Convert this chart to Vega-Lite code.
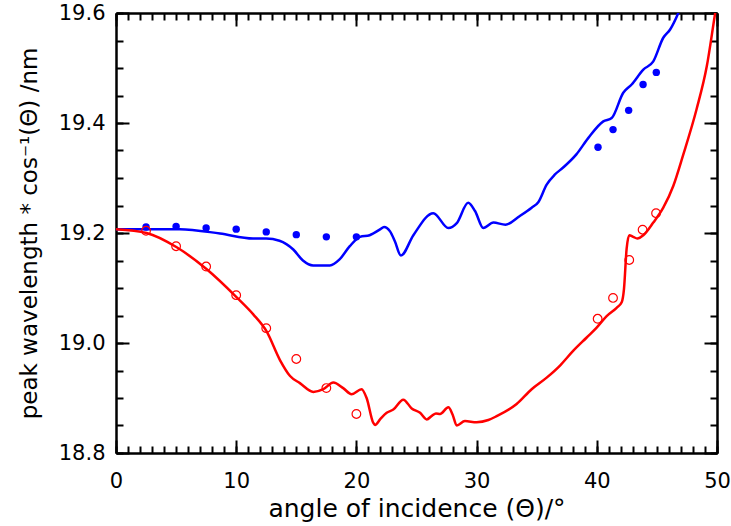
{
  "$schema": "https://vega.github.io/schema/vega-lite/v6.json",
  "width": 601,
  "height": 440,
  "autosize": "none",
  "padding": {"left": 116, "top": 13, "right": 14, "bottom": 73},
  "background": "white",
  "config": {
    "view": {"stroke": null},
    "axis": {
      "grid": false,
      "domainColor": "black",
      "domainWidth": 2,
      "tickColor": "black",
      "tickWidth": 2,
      "labelFont": "DejaVu Sans",
      "labelFontSize": 21,
      "labelColor": "black",
      "titleFont": "DejaVu Sans",
      "titleFontSize": 23,
      "titleFontWeight": "normal",
      "titleColor": "black"
    }
  },
  "datasets": {
    "sim_s": [
      {"angle": 0, "value": 19.207}, {"angle": 2.5, "value": 19.207}, {"angle": 5.3, "value": 19.207},
      {"angle": 8.65, "value": 19.199}, {"angle": 11.4, "value": 19.19}, {"angle": 12.5, "value": 19.19},
      {"angle": 13.6, "value": 19.186}, {"angle": 14.75, "value": 19.17}, {"angle": 15.55, "value": 19.15},
      {"angle": 16.4, "value": 19.141}, {"angle": 17.8, "value": 19.141}, {"angle": 18.6, "value": 19.152},
      {"angle": 19.45, "value": 19.176}, {"angle": 20.3, "value": 19.193}, {"angle": 21.1, "value": 19.196},
      {"angle": 22.0, "value": 19.207}, {"angle": 22.3, "value": 19.211}, {"angle": 22.8, "value": 19.203},
      {"angle": 23.2, "value": 19.185}, {"angle": 23.7, "value": 19.159}, {"angle": 24.74, "value": 19.196},
      {"angle": 26.4, "value": 19.236}, {"angle": 27.65, "value": 19.209}, {"angle": 28.35, "value": 19.218},
      {"angle": 29.3, "value": 19.255}, {"angle": 29.87, "value": 19.24}, {"angle": 30.56, "value": 19.209},
      {"angle": 31.4, "value": 19.219}, {"angle": 32.4, "value": 19.215}, {"angle": 33.6, "value": 19.231},
      {"angle": 34.58, "value": 19.246}, {"angle": 35.13, "value": 19.256}, {"angle": 35.83, "value": 19.288},
      {"angle": 36.5, "value": 19.306}, {"angle": 37.2, "value": 19.319}, {"angle": 38.3, "value": 19.343},
      {"angle": 39.3, "value": 19.373}, {"angle": 40.54, "value": 19.403}, {"angle": 41.24, "value": 19.409},
      {"angle": 42.2, "value": 19.455}, {"angle": 42.9, "value": 19.47}, {"angle": 43.87, "value": 19.497},
      {"angle": 44.7, "value": 19.512}, {"angle": 45.53, "value": 19.555}, {"angle": 46.1, "value": 19.57},
      {"angle": 46.8, "value": 19.601}, {"angle": 47.3, "value": 19.63}
    ],
    "sim_p": [
      {"angle": 0, "value": 19.207}, {"angle": 2.55, "value": 19.2}, {"angle": 5.05, "value": 19.174},
      {"angle": 7.55, "value": 19.134}, {"angle": 10.04, "value": 19.083}, {"angle": 11.42, "value": 19.052},
      {"angle": 12.53, "value": 19.021}, {"angle": 13.64, "value": 18.969}, {"angle": 14.48, "value": 18.94},
      {"angle": 15.3, "value": 18.927}, {"angle": 16.42, "value": 18.911}, {"angle": 17.25, "value": 18.916},
      {"angle": 18.08, "value": 18.928}, {"angle": 18.9, "value": 18.918}, {"angle": 19.6, "value": 18.907},
      {"angle": 20.43, "value": 18.916}, {"angle": 20.85, "value": 18.9}, {"angle": 21.4, "value": 18.855},
      {"angle": 21.55, "value": 18.851}, {"angle": 22.0, "value": 18.862}, {"angle": 22.52, "value": 18.873},
      {"angle": 23.07, "value": 18.879}, {"angle": 23.9, "value": 18.897}, {"angle": 24.6, "value": 18.881},
      {"angle": 25.3, "value": 18.873}, {"angle": 25.85, "value": 18.861}, {"angle": 26.3, "value": 18.868},
      {"angle": 26.62, "value": 18.872}, {"angle": 26.96, "value": 18.871}, {"angle": 27.65, "value": 18.883},
      {"angle": 28.0, "value": 18.87}, {"angle": 28.35, "value": 18.85}, {"angle": 29.03, "value": 18.858},
      {"angle": 30.0, "value": 18.856}, {"angle": 30.98, "value": 18.86}, {"angle": 31.67, "value": 18.867},
      {"angle": 33.33, "value": 18.889}, {"angle": 34.58, "value": 18.916}, {"angle": 35.83, "value": 18.937},
      {"angle": 36.94, "value": 18.959}, {"angle": 38.05, "value": 18.986}, {"angle": 39.16, "value": 19.01},
      {"angle": 39.99, "value": 19.028}, {"angle": 40.82, "value": 19.049}, {"angle": 41.65, "value": 19.064},
      {"angle": 42.07, "value": 19.074}, {"angle": 42.26, "value": 19.098}, {"angle": 42.48, "value": 19.171},
      {"angle": 42.7, "value": 19.196}, {"angle": 43.03, "value": 19.193}, {"angle": 43.37, "value": 19.19},
      {"angle": 43.87, "value": 19.196}, {"angle": 44.7, "value": 19.219}, {"angle": 45.53, "value": 19.246},
      {"angle": 46.37, "value": 19.286}, {"angle": 47.2, "value": 19.343}, {"angle": 48.3, "value": 19.425},
      {"angle": 49.15, "value": 19.503}, {"angle": 49.85, "value": 19.6}, {"angle": 50, "value": 19.62}
    ],
    "meas_s": [
      {"angle": 2.5, "value": 19.211}, {"angle": 5.0, "value": 19.212}, {"angle": 7.5, "value": 19.209},
      {"angle": 10.0, "value": 19.207}, {"angle": 12.5, "value": 19.202}, {"angle": 15.0, "value": 19.197},
      {"angle": 17.5, "value": 19.193}, {"angle": 20.0, "value": 19.193}, {"angle": 40.1, "value": 19.356},
      {"angle": 41.35, "value": 19.388}, {"angle": 42.65, "value": 19.423}, {"angle": 43.85, "value": 19.47},
      {"angle": 44.95, "value": 19.492}
    ],
    "meas_p": [
      {"angle": 2.5, "value": 19.204}, {"angle": 5.0, "value": 19.176}, {"angle": 7.5, "value": 19.139},
      {"angle": 10.0, "value": 19.087}, {"angle": 12.5, "value": 19.027}, {"angle": 15.0, "value": 18.971},
      {"angle": 17.5, "value": 18.918}, {"angle": 20.0, "value": 18.871}, {"angle": 40.07, "value": 19.044},
      {"angle": 41.35, "value": 19.082}, {"angle": 42.7, "value": 19.151}, {"angle": 43.81, "value": 19.206},
      {"angle": 44.93, "value": 19.236}
    ]
  },
  "layer": [
    {
      "data": {"name": "sim_s"},
      "mark": {"type": "line", "color": "#0000ff", "strokeWidth": 2.5, "interpolate": "monotone", "clip": true},
      "encoding": {
        "x": {
          "field": "angle", "type": "quantitative",
          "scale": {"domain": [0, 50], "nice": false, "zero": false},
          "axis": {
            "orient": "bottom", "values": [0, 10, 20, 30, 40, 50], "tickSize": -13,
            "labelPadding": 30, "labelFlush": false, "labelOverlap": false,
            "title": "angle of incidence (Θ)/°", "titleFontSize": 25, "titlePadding": 5
          }
        },
        "y": {
          "field": "value", "type": "quantitative",
          "scale": {"domain": [18.8, 19.6], "nice": false, "zero": false},
          "axis": {
            "orient": "left", "values": [18.8, 19.0, 19.2, 19.4, 19.6], "format": ".1f", "tickSize": -13,
            "labelPadding": 24, "labelFlush": false, "labelOverlap": false,
            "title": "peak wavelength * cos⁻¹(Θ) /nm", "titleFontSize": 23, "titlePadding": 17
          }
        }
      }
    },
    {
      "data": {"name": "sim_p"},
      "mark": {"type": "line", "color": "#ff0000", "strokeWidth": 2.5, "interpolate": "monotone", "clip": true},
      "encoding": {
        "x": {
          "field": "angle", "type": "quantitative",
          "scale": {"domain": [0, 50], "nice": false, "zero": false},
          "axis": {
            "orient": "bottom",
            "values": [0,1,2,3,4,5,6,7,8,9,10,11,12,13,14,15,16,17,18,19,20,21,22,23,24,25,26,27,28,29,30,31,32,33,34,35,36,37,38,39,40,41,42,43,44,45,46,47,48,49,50],
            "tickSize": -7, "labels": false, "title": null
          }
        },
        "y": {
          "field": "value", "type": "quantitative",
          "scale": {"domain": [18.8, 19.6], "nice": false, "zero": false},
          "axis": {
            "orient": "left",
            "values": [18.8, 18.85, 18.9, 18.95, 19.0, 19.05, 19.1, 19.15, 19.2, 19.25, 19.3, 19.35, 19.4, 19.45, 19.5, 19.55, 19.6],
            "tickSize": -7, "labels": false, "title": null
          }
        }
      }
    },
    {
      "data": {"name": "meas_s"},
      "mark": {"type": "circle", "color": "#0000ff", "opacity": 1, "size": 55},
      "encoding": {
        "x": {
          "field": "angle", "type": "quantitative",
          "scale": {"domain": [0, 50], "nice": false, "zero": false},
          "axis": {"orient": "top", "values": [0, 10, 20, 30, 40, 50], "tickSize": -13, "labels": false, "title": null}
        },
        "y": {
          "field": "value", "type": "quantitative",
          "scale": {"domain": [18.8, 19.6], "nice": false, "zero": false},
          "axis": {"orient": "right", "values": [18.8, 19.0, 19.2, 19.4, 19.6], "tickSize": -13, "labels": false, "title": null}
        }
      }
    },
    {
      "data": {"name": "meas_p"},
      "mark": {"type": "point", "shape": "circle", "color": "#ff0000", "filled": false, "opacity": 1, "strokeWidth": 1.2, "size": 75},
      "encoding": {
        "x": {
          "field": "angle", "type": "quantitative",
          "scale": {"domain": [0, 50], "nice": false, "zero": false},
          "axis": {
            "orient": "top",
            "values": [0,1,2,3,4,5,6,7,8,9,10,11,12,13,14,15,16,17,18,19,20,21,22,23,24,25,26,27,28,29,30,31,32,33,34,35,36,37,38,39,40,41,42,43,44,45,46,47,48,49,50],
            "tickSize": -7, "labels": false, "title": null
          }
        },
        "y": {
          "field": "value", "type": "quantitative",
          "scale": {"domain": [18.8, 19.6], "nice": false, "zero": false},
          "axis": {
            "orient": "right",
            "values": [18.8, 18.85, 18.9, 18.95, 19.0, 19.05, 19.1, 19.15, 19.2, 19.25, 19.3, 19.35, 19.4, 19.45, 19.5, 19.55, 19.6],
            "tickSize": -7, "labels": false, "title": null
          }
        }
      }
    }
  ],
  "resolve": {"axis": {"x": "independent", "y": "independent"}}
}
